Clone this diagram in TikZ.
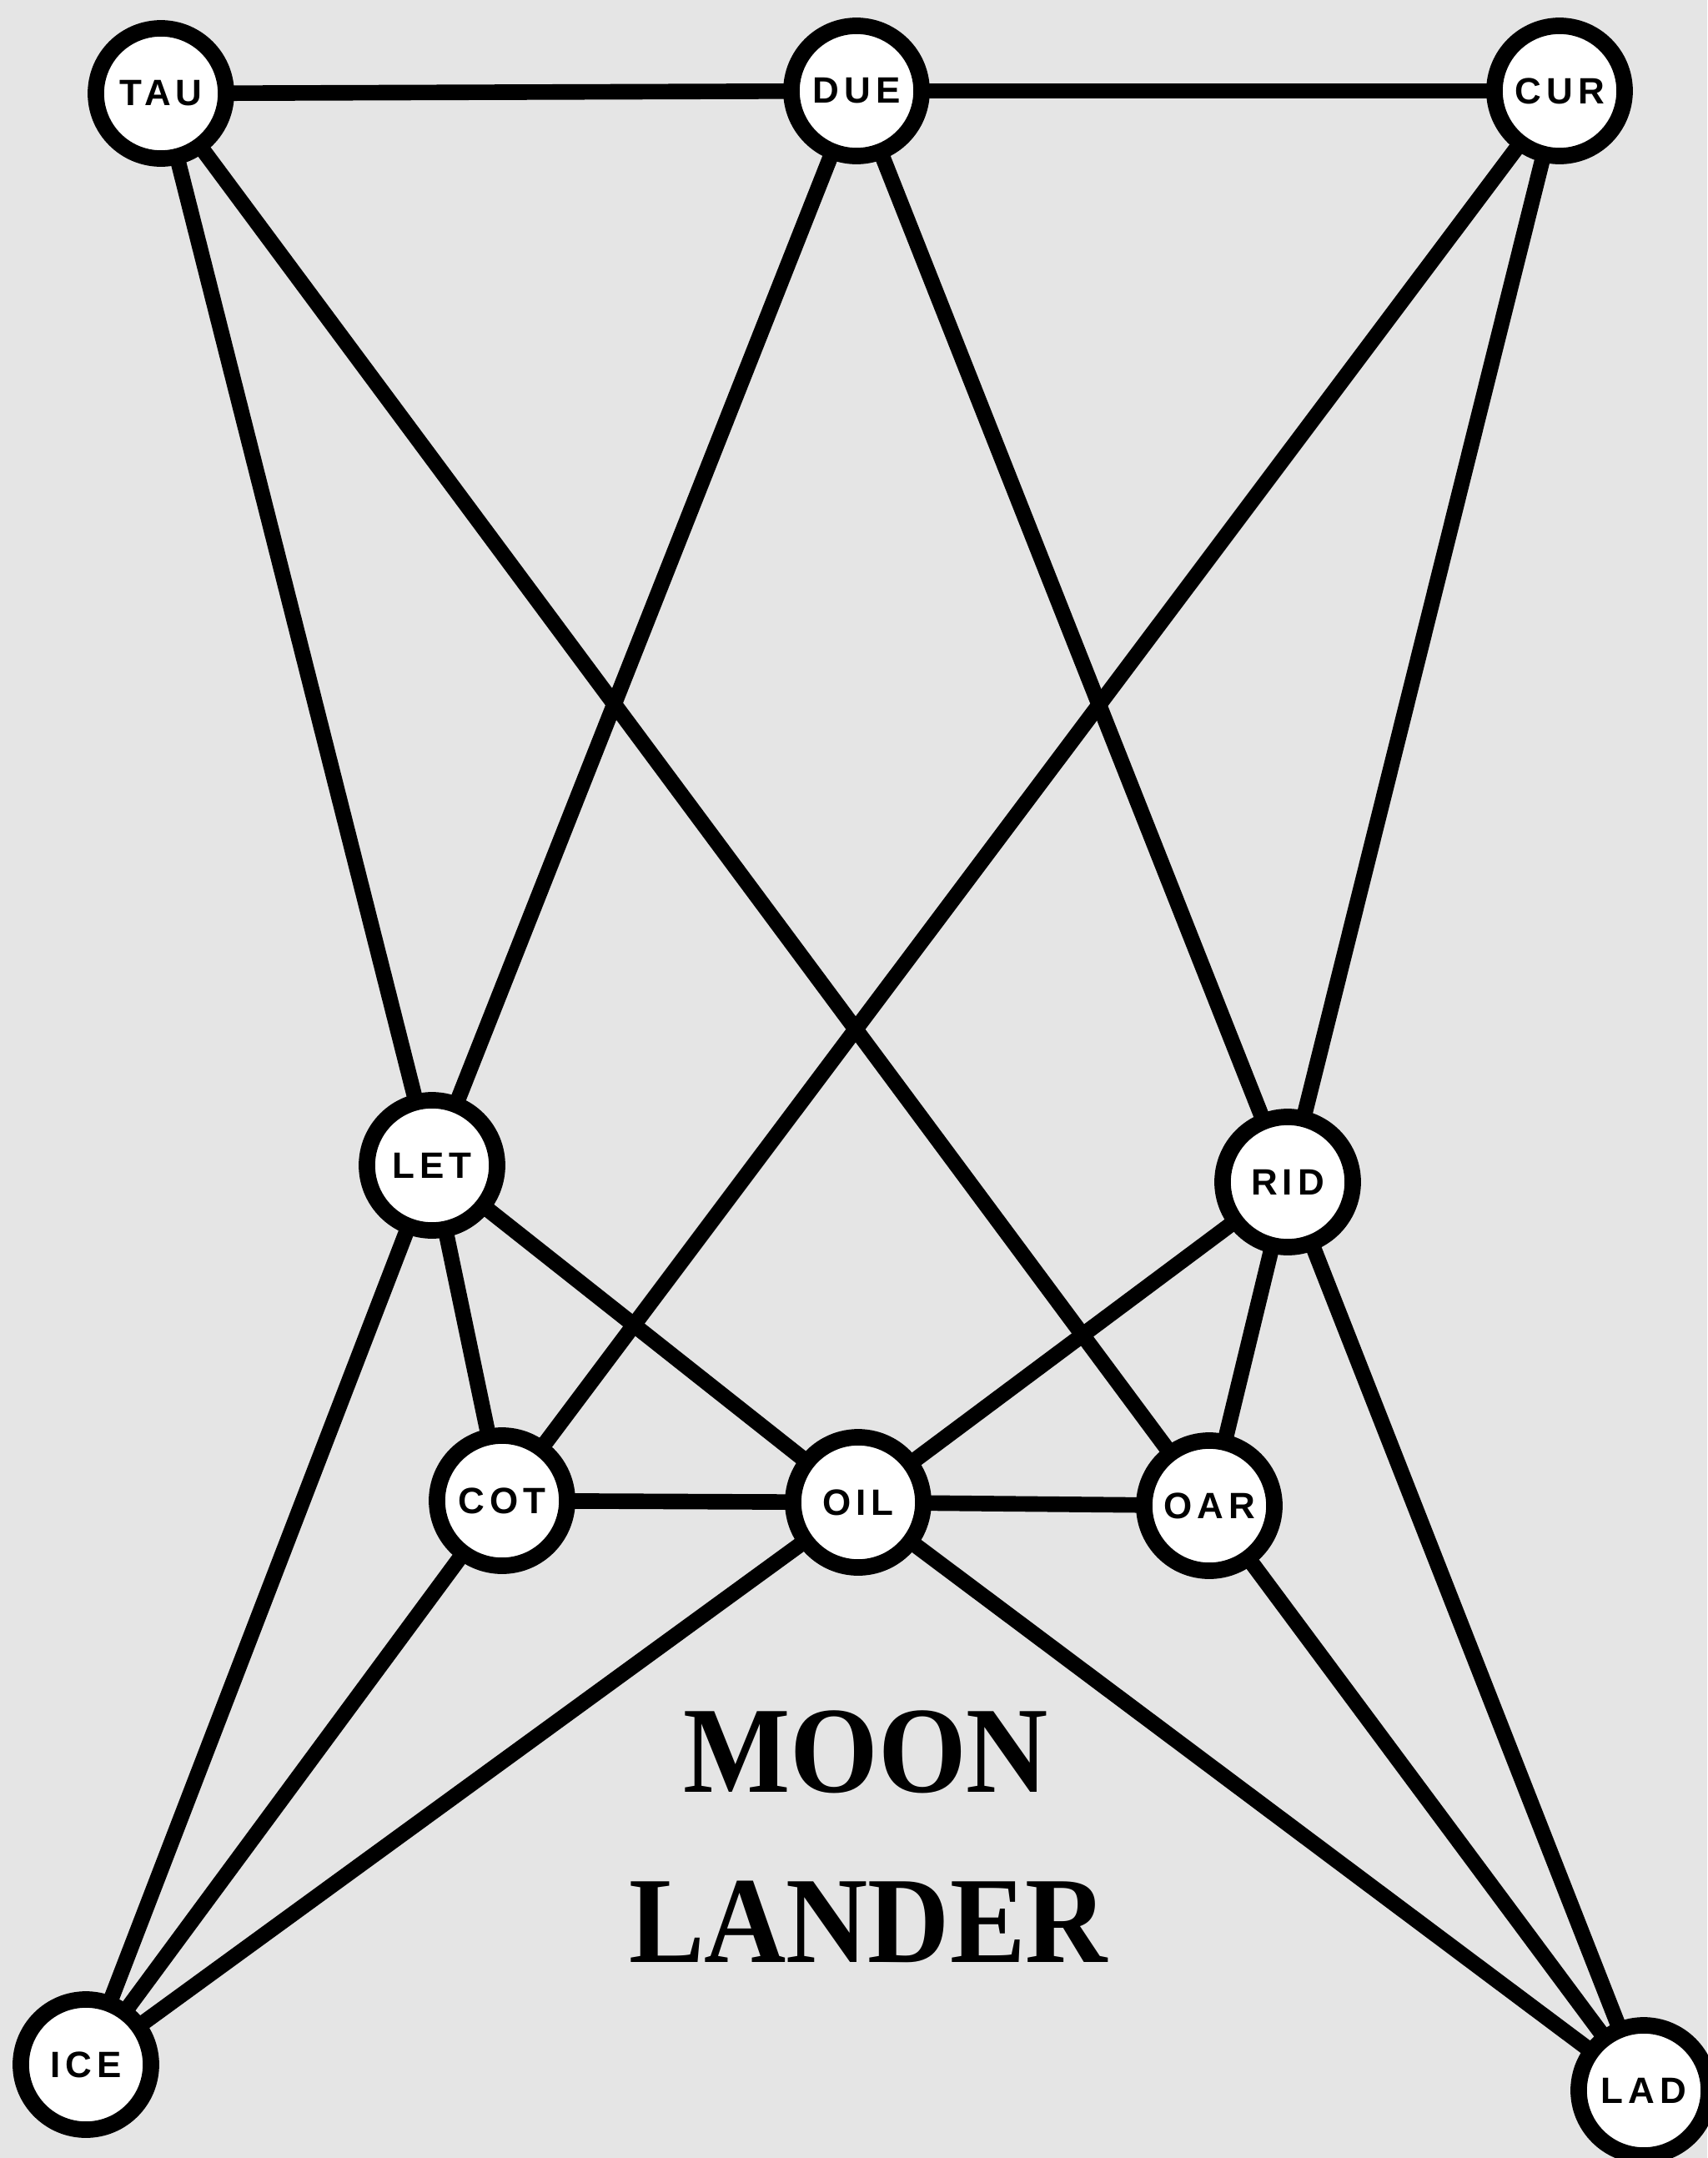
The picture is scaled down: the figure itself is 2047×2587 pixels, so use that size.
\documentclass[tikz,border=0pt]{standalone}
\usepackage{fontspec}
\setmainfont{Liberation Serif}
\newfontfamily\wordfont[LetterSpace=14]{Liberation Sans}
\newfontfamily\titlefont[FakeStretch=0.92]{Liberation Serif}
\usepackage{tikz}
\usetikzlibrary{positioning}

\begin{document}
\begin{tikzpicture}[
    x=0.01cm, y=-0.01cm,
    word/.style={circle, draw=black, fill=white, line width=5.6pt, minimum size=1.56cm, inner sep=0pt, font=\wordfont\bfseries\fontsize{12.5}{12.5}\selectfont},
    link/.style={line width=5.3pt, shorten <=-4pt, shorten >=-4pt},
    title/.style={anchor=base, inner sep=0pt, font=\titlefont\bfseries\fontsize{42}{42}\selectfont}
]

% Page
\path[use as bounding box, fill=black!10] (0,0) rectangle (2047,2587);

% Top row
\node[word] (tau) at (193,112) {TAU};
\node[word] (due) at (1027,109) {DUE};
\node[word] (cur) at (1870,109) {CUR};

% Middle
\node[word] (let) at (518,1397) {LET};
\node[word] (rid) at (1544,1417) {RID};

% Lower row
\node[word] (cot) at (602,1799) {COT};
\node[word] (oil) at (1029,1801) {OIL};
\node[word] (oar) at (1450,1805) {OAR};

% Corners
\node[word] (ice) at (103,2475) {ICE};
\node[word] (lad) at (1971,2506) {LAD};

% Title
\node[title] (moon) at (1038,2148) {MOON};
\node[title] (lander) at (1041,2352) {LANDER};

% Connections
\draw[link] (tau) -- (due);
\draw[link] (due) -- (cur);

\draw[link] (tau) -- (let);
\draw[link] (tau) -- (oar);
\draw[link] (due) -- (let);
\draw[link] (due) -- (rid);
\draw[link] (cur) -- (cot);
\draw[link] (cur) -- (rid);

\draw[link] (let) -- (cot);
\draw[link] (let) -- (oil);
\draw[link] (let) -- (ice);
\draw[link] (rid) -- (oil);
\draw[link] (rid) -- (oar);
\draw[link] (rid) -- (lad);

\draw[link] (cot) -- (oil);
\draw[link] (oil) -- (oar);

\draw[link] (cot) -- (ice);
\draw[link] (oil) -- (ice);
\draw[link] (oil) -- (lad);
\draw[link] (oar) -- (lad);

\end{tikzpicture}
\end{document}
